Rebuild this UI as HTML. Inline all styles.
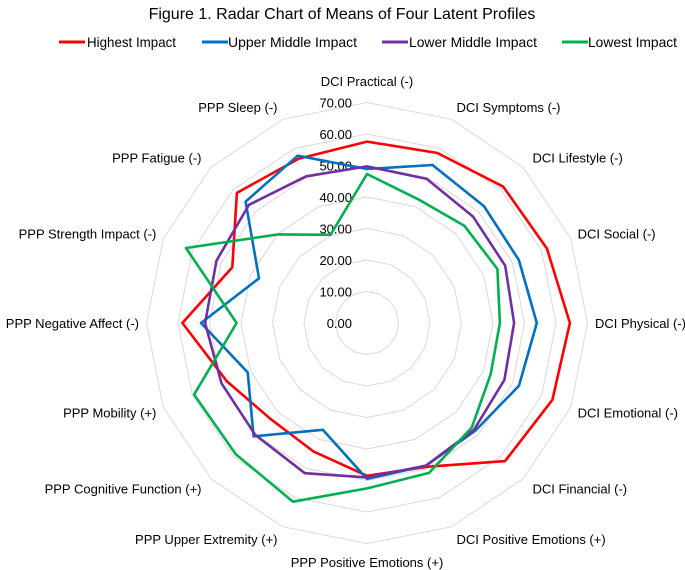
<!DOCTYPE html>
<html><head><meta charset="utf-8"><style>
body{margin:0;background:#fff;}
svg{display:block;font-family:"Liberation Sans",Calibri,sans-serif;}
</style></head><body>
<svg id="chart" width="685" height="570" viewBox="0 0 685 570">
<text x="342" y="19" text-anchor="middle" font-size="16" fill="#000">Figure 1. Radar Chart of Means of Four Latent Profiles</text>
<g id="legend"></g>
<g id="grid"></g>
<g id="series"></g>
<g id="labels"></g>
</svg>
<script>
const categories = ["DCI Practical (-)","DCI Symptoms (-)","DCI Lifestyle (-)","DCI Social (-)","DCI Physical (-)","DCI Emotional (-)","DCI Financial (-)","DCI Positive Emotions (+)","PPP Positive Emotions (+)","PPP Upper Extremity (+)","PPP Cognitive Function (+)","PPP Mobility (+)","PPP Negative Affect (-)","PPP Strength Impact (-)","PPP Fatigue (-)","PPP Sleep (-)"];
const seriesNames = ["Highest Impact","Upper Middle Impact","Lower Middle Impact","Lowest Impact"];
const highest = [57.6,58.4,61.2,61.8,64.4,63.7,62.0,49.4,48.5,44.2,43.2,48.2,58.6,46.3,58.4,56.5];
const upperMiddle = [48.9,54.3,52.5,52.2,53.9,52.2,48.5,49.0,49.5,36.7,50.9,41.0,52.7,37.1,54.5,57.5];
const lowerMiddle = [49.7,49.5,47.7,47.5,46.7,47.2,48.0,49.0,49.0,51.6,50.2,50.0,51.4,51.7,53.0,50.4];
const lowest = [47.3,42.5,43.7,44.8,42.2,42.5,47.0,51.5,52.5,61.4,58.9,59.4,41.4,62.2,39.8,30.3];
const tickValues = [0,10,20,30,40,50,60,70];
const tickLabels = ["0.00","10.00","20.00","30.00","40.00","50.00","60.00","70.00"];
const colors = ["#ff0000","#0070c0","#7030a0","#00b050"];

const NS="http://www.w3.org/2000/svg";
const cx=367, cy=323, R=220.5, maxV=70;
const n=categories.length;
function ang(i){return i*2*Math.PI/n;}
function px(i,v){return cx+Math.sin(ang(i))*v/maxV*R;}
function py(i,v){return cy-Math.cos(ang(i))*v/maxV*R;}
function mk(tag,parent){const e=document.createElementNS(NS,tag);parent.appendChild(e);return e;}

const grid=document.getElementById('grid');
tickValues.forEach((t,k)=>{
  if(t===0) return;
  const p=mk('polygon',grid);
  
  
  p.setAttribute('points',categories.map((c,i)=>px(i,t).toFixed(1)+','+py(i,t).toFixed(1)).join(' '));
  p.setAttribute('fill','none');p.setAttribute('stroke','#d9d9d9');p.setAttribute('stroke-width','1');
});
tickValues.forEach((t,k)=>{
  const tx=mk('text',grid);
  
  
  tx.setAttribute('x',352);tx.setAttribute('y',(py(0,t)+5).toFixed(1));
  tx.setAttribute('text-anchor','end');tx.setAttribute('font-size','13');tx.setAttribute('fill','#000');
  tx.textContent=tickLabels[k];
});

const sg=document.getElementById('series');
[highest,upperMiddle,lowerMiddle,lowest].forEach((vals,s)=>{
  const p=mk('polygon',sg);
  
  
  p.setAttribute('points',vals.map((v,i)=>px(i,v).toFixed(1)+','+py(i,v).toFixed(1)).join(' '));
  p.setAttribute('fill','none');p.setAttribute('stroke',colors[s]);p.setAttribute('stroke-width','2.6');
  p.setAttribute('stroke-linejoin','round');
});

const lg=document.getElementById('labels');
categories.forEach((c,i)=>{
  const a=ang(i), s=Math.sin(a), co=Math.cos(a);
  const r=234;
  let x=cx+s*r, y=cy-co*r+5;
  let anchor='middle';
  if(s>0.1) anchor='start'; else if(s<-0.1) anchor='end';
  if(Math.abs(s)>0.9){x=cx+s*228;}
  if(i===0) y=86; if(i===8) y=567;
  const t=mk('text',lg);
  
  
  t.setAttribute('x',x.toFixed(1));t.setAttribute('y',y.toFixed(1));
  t.setAttribute('text-anchor',anchor);t.setAttribute('font-size','13');t.setAttribute('fill','#000');
  t.textContent=c;
});

const leg=document.getElementById('legend');
const legX=[59,202,382,562];
const legTextX=[87,228,409,588];
const legTextW=[89,129,128,89];
seriesNames.forEach((nm,s)=>{
  const l=mk('line',leg);
  
  
  l.setAttribute('x1',legX[s]);l.setAttribute('x2',legX[s]+26);l.setAttribute('y1',42);l.setAttribute('y2',42);
  l.setAttribute('stroke',colors[s]);l.setAttribute('stroke-width','3');
  const t=mk('text',leg);
  
  
  t.setAttribute('x',legTextX[s]);t.setAttribute('y',47);t.setAttribute('font-size','14');t.setAttribute('fill','#000');
  t.setAttribute('textLength',legTextW[s]);t.setAttribute('lengthAdjust','spacingAndGlyphs');
  t.textContent=nm;
});
</script>
</body></html>
